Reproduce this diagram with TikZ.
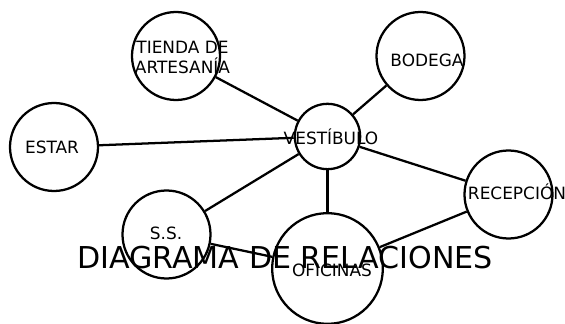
\documentclass[tikz,border=0pt]{standalone}
\usepackage{fontspec}
\setmainfont{DejaVu Sans}
\begin{document}
\begin{tikzpicture}[
      x=0.75pt, y=-0.75pt,
      every node/.style={font=\fontsize{12.7}{15}\selectfont},
      room/.style={circle, draw=black, line width=1.7pt, minimum size=66pt, inner sep=0pt},
      hall/.style={room, minimum size=49pt},
      office/.style={room, minimum size=83pt},
      tag/.style={align=center, inner sep=0pt},
      link/.style={line width=1.7pt},
      title/.style={inner sep=0pt, font=\fontsize{22.6}{26}\selectfont}
  ]
    \useasboundingbox (0,0) rectangle (565,324);
    \node[room] (tienda) at (176,56) {};
    \node[room] (estar) at (54,147) {};
    \node[hall] (vestibulo) at (327.5,136.5) {};
    \node[room] (bodega) at (420.5,56) {};
    \node[room] (recepcion) at (508.5,194.5) {};
    \node[room] (ss) at (166.5,234.5) {};
    \node[office] (oficinas) at (327.5,268.5) {};

    \draw[link] (tienda) -- (vestibulo);
    \draw[link] (estar) -- (vestibulo);
    \draw[link] (ss) -- (vestibulo);
    \draw[link] (vestibulo) -- (bodega);
    \draw[link] (vestibulo) -- (recepcion);
    \draw[link] (vestibulo) -- (oficinas);
    \draw[link] (ss) -- (oficinas);
    \draw[link] (recepcion) -- (oficinas);

    \node[tag] (tiendaTxt) at (182.5,57) {TIENDA DE\\ARTESANÍA};
    \node[tag] (estarTxt) at (52,147) {ESTAR};
    \node[tag] (vestibuloTxt) at (331,137) {VESTÍBULO};
    \node[tag] (bodegaTxt) at (427,60) {BODEGA};
    \node[tag] (recepcionTxt) at (517,192) {RECEPCIÓN};
    \node[tag] (ssTxt) at (166,233) {S.S.};
    \node[tag] (oficinasTxt) at (332,270) {OFICINAS};
    \node[title] (titulo) at (285,258) {DIAGRAMA DE RELACIONES};
  \end{tikzpicture}
\end{document}
